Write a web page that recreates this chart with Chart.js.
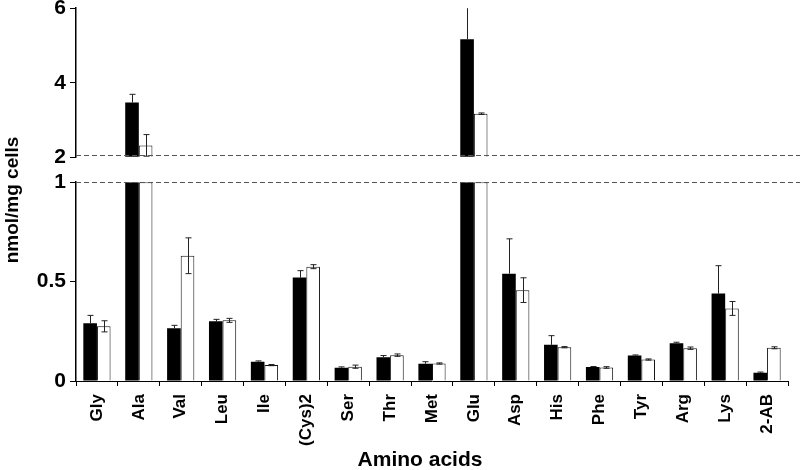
<!DOCTYPE html>
<html>
<head>
    <title>Amino acids</title>
    <script src="https://cdn.jsdelivr.net/npm/chart.js"></script>
    <style>
        body { margin: 0; background: #fff; }
        canvas { display: block; }
    </style>
</head>
<body>
    <canvas id="grafico" width="800" height="470"></canvas>
    <script>
        const categorias = ['Gly', 'Ala', 'Val', 'Leu', 'Ile', '(Cys)2', 'Ser', 'Thr', 'Met', 'Glu', 'Asp', 'His', 'Phe', 'Tyr', 'Arg', 'Lys', '2-AB'];
        const mediaPreta = [0.29, 3.47, 0.265, 0.30, 0.097, 0.52, 0.067, 0.12, 0.087, 5.17, 0.54, 0.182, 0.07, 0.128, 0.19, 0.44, 0.042];
        const erroPreta = [0.04, 0.22, 0.015, 0.01, 0.004, 0.035, 0.004, 0.008, 0.01, 0.9, 0.175, 0.046, 0.003, 0.003, 0.005, 0.14, 0.003];
        const mediaBranca = [0.275, 2.32, 0.63, 0.305, 0.08, 0.575, 0.072, 0.13, 0.088, 3.17, 0.457, 0.17, 0.068, 0.108, 0.165, 0.365, 0.167];
        const erroBranca = [0.028, 0.29, 0.09, 0.01, 0.003, 0.01, 0.008, 0.006, 0.003, 0.02, 0.062, 0.003, 0.004, 0.003, 0.006, 0.035, 0.005];
        const ticksBaixo = [0, 0.5, 1];
        const ticksCima = [2, 4, 6];

        // eixo quebrado: 0-1 embaixo, 2-6 em cima
        const maxBaixo = 1;
        const minCima = 2;

        const fonte = "'Liberation Sans', Arial, sans-serif";

        const barrasErro = {
            id: 'barrasErro',
            afterDatasetsDraw(chart) {
                const ctx = chart.ctx;
                ctx.save();
                ctx.strokeStyle = '#222';
                ctx.lineWidth = 1;
                chart.data.datasets.forEach((ds, di) => {
                    const meta = chart.getDatasetMeta(di);
                    const preta = ds.grupo === 'preta';
                    const medias = preta ? mediaPreta : mediaBranca;
                    const erros = preta ? erroPreta : erroBranca;
                    meta.data.forEach((bar, i) => {
                        const v = medias[i];
                        const emCima = v > maxBaixo;
                        if ((ds.yAxisID === 'yCima') !== emCima) return;
                        const escala = chart.scales[ds.yAxisID];
                        const alto = v + erros[i];
                        const x = Math.round(bar.x) + 0.5;
                        const yHi = escala.getPixelForValue(Math.min(alto, escala.max));
                        // barra preta: só a parte de cima aparece
                        const yLo = escala.getPixelForValue(preta ? v : v - erros[i]);
                        ctx.beginPath();
                        ctx.moveTo(x, yLo);
                        ctx.lineTo(x, yHi);
                        if (!preta) {
                            ctx.moveTo(x - 3, yLo);
                            ctx.lineTo(x + 3, yLo);
                        }
                        if (alto <= escala.max) {
                            ctx.moveTo(x - 3, yHi);
                            ctx.lineTo(x + 3, yHi);
                        }
                        ctx.stroke();
                    });
                });
                ctx.restore();
            },
            afterDraw(chart) {
                const ctx = chart.ctx;
                const area = chart.chartArea;
                ctx.save();
                ctx.strokeStyle = '#555';
                ctx.lineWidth = 1;
                ctx.setLineDash([5, 3]);
                const y1 = Math.round(chart.scales.yCima.getPixelForValue(minCima)) - 1.5;
                const y2 = Math.round(chart.scales.y.getPixelForValue(maxBaixo)) + 0.5;
                ctx.beginPath();
                ctx.moveTo(area.left, y1);
                ctx.lineTo(chart.width, y1);
                ctx.moveTo(area.left, y2);
                ctx.lineTo(chart.width, y2);
                ctx.stroke();
                ctx.setLineDash([]);

                ctx.fillStyle = '#000';
                ctx.font = 'bold 21px ' + fonte;
                ctx.textAlign = 'center';
                ctx.textBaseline = 'middle';
                ctx.fillText('Amino acids', 420, 460);
                ctx.translate(13, 200);
                ctx.rotate(-Math.PI / 2);
                ctx.font = 'bold 19px ' + fonte;
                ctx.fillText('nmol/mg cells', 0, 0);
                ctx.restore();
            }
        };

        const eixoY = (extra) => Object.assign({
            position: 'left',
            stack: 'quebra',
            afterFit: (s) => { s.width = 76; },
            grid: { drawOnChartArea: false, tickLength: 6, color: '#000' },
            border: { display: true, color: '#000', width: 1.5 },
            ticks: { color: '#000', padding: 4, font: { family: fonte, size: 21, weight: 'bold', lineHeight: 0.4 },
                     callback: (v) => String(v) }
        }, extra);

        const ctx = document.getElementById('grafico').getContext('2d');
        new Chart(ctx, {
            type: 'bar',
            data: {
                labels: categorias,
                datasets: [
                    { grupo: 'preta', stack: 'p', yAxisID: 'y', data: mediaPreta.map(v => Math.min(v, maxBaixo)),
                      backgroundColor: '#000', borderColor: '#000', borderWidth: 0 },
                    { grupo: 'branca', stack: 'b', yAxisID: 'y', data: mediaBranca.map(v => Math.min(v, maxBaixo)),
                      backgroundColor: '#fff', borderColor: '#111', borderWidth: 1 },
                    { grupo: 'preta', stack: 'p', yAxisID: 'yCima', base: minCima, data: mediaPreta.map(v => v > maxBaixo ? v : null),
                      backgroundColor: '#000', borderColor: '#000', borderWidth: 0 },
                    { grupo: 'branca', stack: 'b', yAxisID: 'yCima', base: minCima, data: mediaBranca.map(v => v > maxBaixo ? v : null),
                      backgroundColor: '#fff', borderColor: '#111', borderWidth: 1 }
                ]
            },
            options: {
                responsive: false,
                animation: false,
                layout: { autoPadding: false, padding: { top: 4, right: 12, left: 0, bottom: 0 } },
                plugins: { legend: { display: false }, tooltip: { enabled: false } },
                datasets: { bar: { categoryPercentage: 0.65, barPercentage: 1 } },
                scales: {
                    x: {
                        afterFit: (s) => { s.height = 89; },
                        grid: { drawOnChartArea: false, tickLength: 5, color: '#000', offset: true },
                        border: { display: true, color: '#000', width: 1 },
                        ticks: { color: '#000', minRotation: 90, maxRotation: 90, padding: 8, font: { family: fonte, size: 17, weight: 'bold' } }
                    },
                    y: eixoY({ min: 0, max: maxBaixo, stackWeight: 200,
                        afterBuildTicks: (s) => { s.ticks = ticksBaixo.map(v => ({ value: v })); } }),
                    yVazio: {
                        position: 'left', stack: 'quebra', stackWeight: 25, min: 0, max: 1,
                        afterFit: (s) => { s.width = 76; },
                        grid: { display: false }, border: { display: false }, ticks: { display: false }
                    },
                    yCima: eixoY({ min: minCima, max: 6, stackWeight: 150,
                        afterBuildTicks: (s) => { s.ticks = ticksCima.map(v => ({ value: v })); } })
                }
            },
            plugins: [barrasErro]
        });
    </script>
</body>
</html>
